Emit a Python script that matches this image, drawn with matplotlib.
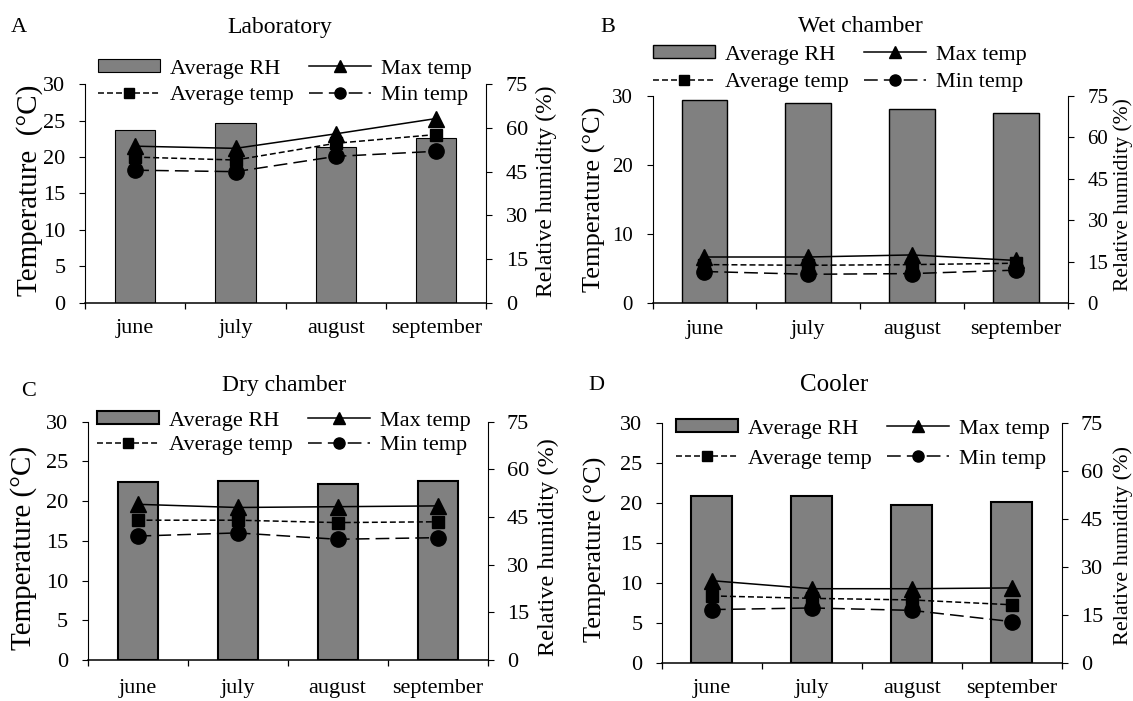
import matplotlib
matplotlib.use("Agg")
import matplotlib.pyplot as plt
from matplotlib.lines import Line2D
from matplotlib.patches import Patch

plt.rcParams['font.family'] = ['Liberation Serif', 'DejaVu Serif']

months = ['june', 'july', 'august', 'september']

lab_rh = [59.3, 61.8, 53.6, 56.5]
lab_max = [21.5, 21.2, 23.2, 25.3]
lab_avg = [20.0, 19.6, 21.9, 23.1]
lab_min = [18.2, 18.0, 20.1, 20.8]

wet_rh = [73.4, 72.5, 70.3, 69.0]
wet_max = [6.7, 6.7, 7.0, 6.2]
wet_avg = [5.6, 5.5, 5.6, 5.8]
wet_min = [4.6, 4.2, 4.3, 4.8]

dry_rh = [55.9, 56.3, 55.5, 56.3]
dry_max = [19.6, 19.2, 19.3, 19.4]
dry_avg = [17.6, 17.6, 17.3, 17.4]
dry_min = [15.6, 16.0, 15.2, 15.4]

cool_rh = [52.2, 52.2, 49.2, 50.4]
cool_max = [10.3, 9.3, 9.3, 9.4]
cool_avg = [8.4, 8.1, 7.9, 7.3]
cool_min = [6.7, 6.9, 6.6, 5.2]

W, H = 1133, 701
fig = plt.figure(figsize=(W / 100, H / 100), dpi=100)

GRAY = '#808080'

panels = [
    dict(letter='A', title='Laboratory', rh=lab_rh, tmax=lab_max, tavg=lab_avg, tmin=lab_min,
         box=(85, 84.3, 486.4, 302.7), yticks=[0, 5, 10, 15, 20, 25, 30],
         ylabel='Temperature  (°C)', lfs=21, rfs=17, tfs=16, titfs=17,
         lx=43, ly=0.516, rx=536, ry=0.51, bw=0.40, elw=0.8, xpad=12,
         letter_xy=(19, 27), title_xy=(280, 27),
         leg=(98, 59), colsp=0.68, labsp=0.3),
    dict(letter='B', title='Wet chamber', rh=wet_rh, tmax=wet_max, tavg=wet_avg, tmin=wet_min,
         box=(652.5, 96, 1068, 303.3), yticks=[0, 10, 20, 30],
         ylabel='Temperature (°C)', lfs=19, rfs=15.5, tfs=15, titfs=17,
         lx=606, ly=0.503, rx=1113, ry=0.525, bw=0.44, elw=1.0, xpad=12,
         letter_xy=(608, 27), title_xy=(860, 26),
         leg=(653, 45), colsp=0.68, labsp=0.37),
    dict(letter='C', title='Dry chamber', rh=dry_rh, tmax=dry_max, tavg=dry_avg, tmin=dry_min,
         box=(87.5, 421.7, 487.5, 660), yticks=[0, 5, 10, 15, 20, 25, 30],
         ylabel='Temperature (°C)', lfs=21, rfs=17.5, tfs=16, titfs=17,
         lx=37.5, ly=0.472, rx=537.5, ry=0.474, bw=0.40, elw=1.5, xpad=14,
         letter_xy=(29, 391), title_xy=(284, 385),
         leg=(97, 411), colsp=0.68, labsp=0.23),
    dict(letter='D', title='Cooler', rh=cool_rh, tmax=cool_max, tavg=cool_avg, tmin=cool_min,
         box=(662, 422.7, 1061.5, 663.3), yticks=[0, 5, 10, 15, 20, 25, 30],
         ylabel='Temperature (°C)', lfs=19, rfs=16, tfs=16, titfs=18,
         lx=607, ly=0.475, rx=1113, ry=0.49, bw=0.41, elw=1.5, xpad=11.5,
         letter_xy=(596, 385), title_xy=(834, 385),
         leg=(676, 419), colsp=0.68, labsp=0.47),
]

LW = 1.1
avg_dash = (3.9, 2.0)
min_dash = (9.0, 4.0)

for p in panels:
    l, t, r, b = p['box']
    ax = fig.add_axes([l / W, 1 - b / H, (r - l) / W, (b - t) / H])
    ax2 = ax.twinx()
    ax.set_zorder(ax2.get_zorder() + 1)
    ax.patch.set_visible(False)

    x = list(range(len(months)))
    ax2.bar(x, p['rh'], width=p['bw'], color=GRAY, edgecolor='black',
            linewidth=p['elw'], zorder=2)
    ax.plot(x, p['tmax'], color='black', lw=LW, marker='^', ms=11, zorder=3)
    ax.plot(x, p['tavg'], color='black', lw=LW, marker='s', ms=8.5,
            dashes=avg_dash, zorder=3)
    ax.plot(x, p['tmin'], color='black', lw=LW, marker='o', ms=11,
            dashes=min_dash, zorder=3)

    ax.set_xlim(-0.5, len(months) - 0.5)
    ax.set_ylim(0, 30)
    ax2.set_ylim(0, 75)
    ax.set_yticks(p['yticks'])
    ax2.set_yticks([0, 15, 30, 45, 60, 75])

    ax.set_xticks(x)
    ax.set_xticklabels(months, fontsize=16)
    ax.set_xticks([i - 0.5 for i in range(len(months) + 1)], minor=True)
    ax.tick_params(axis='x', which='major', length=0, pad=p['xpad'])
    ax.tick_params(axis='x', which='minor', length=4.5, width=0.9, direction='out')
    ax.tick_params(axis='y', length=4, width=0.8, direction='out', pad=10,
                   labelsize=p['tfs'])
    ax2.tick_params(axis='y', length=4, width=0.8, direction='out', pad=10,
                    labelsize=p['tfs'])

    for s in ['top', 'right']:
        ax.spines[s].set_visible(False)
    for s in ['top', 'left', 'bottom']:
        ax2.spines[s].set_visible(False)
    ax.spines['left'].set_linewidth(0.8)
    ax.spines['bottom'].set_linewidth(1.1)
    ax2.spines['right'].set_linewidth(0.8)

    ax.set_ylabel(p['ylabel'], fontsize=p['lfs'])
    ax.yaxis.set_label_coords((p['lx'] - l) / (r - l), p['ly'])
    ax2.set_ylabel('Relative humidity (%)', fontsize=p['rfs'])
    ax2.yaxis.set_label_coords((p['rx'] - l) / (r - l), p['ry'])

    fig.text(p['letter_xy'][0] / W, 1 - p['letter_xy'][1] / H, p['letter'],
             fontsize=16, ha='center', va='center')
    fig.text(p['title_xy'][0] / W, 1 - p['title_xy'][1] / H, p['title'],
             fontsize=p['titfs'], ha='center', va='center')

    handles = [
        Patch(facecolor=GRAY, edgecolor='black', linewidth=p['elw']),
        Line2D([], [], color='black', lw=LW, marker='s', ms=6.5, dashes=avg_dash),
        Line2D([], [], color='black', lw=LW, marker='^', ms=8),
        Line2D([], [], color='black', lw=LW, marker='o', ms=8, dashes=min_dash),
    ]
    labels = ['Average RH', 'Average temp', 'Max temp', 'Min temp']
    fig.legend(handles, labels, ncol=2, loc='upper left',
               bbox_to_anchor=(p['leg'][0] / W, 1 - p['leg'][1] / H),
               bbox_transform=fig.transFigure, frameon=False, fontsize=16,
               borderpad=0, borderaxespad=0, handlelength=2.8, handleheight=0.55,
               handletextpad=0.45, columnspacing=p['colsp'],
               labelspacing=p['labsp'], numpoints=1)

fig.savefig('out.png', dpi=100)
